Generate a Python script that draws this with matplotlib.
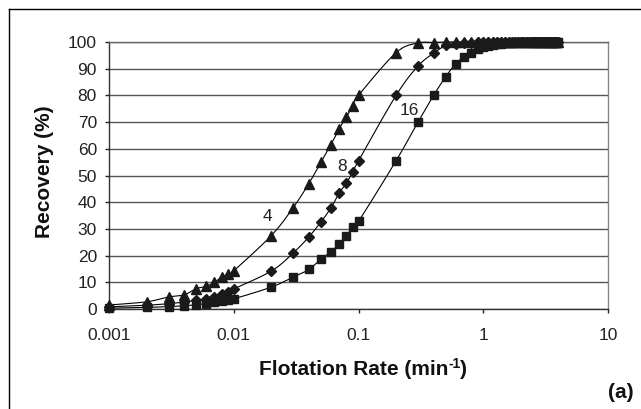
import numpy as np
import matplotlib
matplotlib.use("Agg")
import matplotlib.pyplot as plt
from matplotlib.lines import Line2D

plt.rcParams['font.family'] = ['Liberation Sans', 'DejaVu Sans']

# ---- data ----
rate = [0.001, 0.002, 0.003, 0.004, 0.005, 0.006, 0.007, 0.008, 0.009,
        0.01, 0.02, 0.03, 0.04, 0.05, 0.06, 0.07, 0.08, 0.09,
        0.1, 0.2, 0.3, 0.4, 0.5, 0.6, 0.7, 0.8, 0.9,
        1.0, 1.1, 1.2, 1.3, 1.4, 1.5, 1.6, 1.7, 1.8, 1.9,
        2.0, 2.1, 2.2, 2.3, 2.4, 2.5, 2.6, 2.7, 2.8, 2.9,
        3.0, 3.1, 3.2, 3.3, 3.4, 3.5, 3.6, 3.7, 3.8, 3.9, 4.0]

rec_4 = [1.5, 2.7, 4.5, 5.3, 7.6, 8.5, 10.0, 12.0, 13.0,
         14.3, 27.5, 38.0, 47.0, 55.0, 61.5, 67.5, 72.0, 76.0,
         80.0, 96.0, 99.6, 99.8, 100, 100, 100, 100, 100,
         100, 100, 100, 100, 100, 100, 100, 100, 100, 100,
         100, 100, 100, 100, 100, 100, 100, 100, 100, 100,
         100, 100, 100, 100, 100, 100, 100, 100, 100, 100, 100]

rec_8 = [0.8, 1.4, 2.0, 2.6, 3.2, 3.9, 4.6, 5.5, 6.4,
         7.5, 14.2, 21.0, 27.0, 32.6, 37.8, 43.4, 47.2, 51.3,
         55.5, 80.0, 91.0, 95.8, 98.7, 99.4, 99.7, 99.8, 99.9,
         100, 100, 100, 100, 100, 100, 100, 100, 100, 100,
         100, 100, 100, 100, 100, 100, 100, 100, 100, 100,
         100, 100, 100, 100, 100, 100, 100, 100, 100, 100, 100]

rec_16 = [0.3, 0.6, 0.9, 1.2, 1.6, 2.0, 2.5, 3.0, 3.4,
          3.8, 8.2, 12.0, 14.8, 18.7, 21.4, 24.4, 27.4, 30.7,
          32.8, 55.5, 70.0, 80.0, 87.0, 91.8, 94.4, 96.0, 97.2,
          98.0, 98.5, 98.9, 99.2, 99.4, 99.6, 99.7, 99.8, 99.85, 99.9,
          100, 100, 100, 100, 100, 100, 100, 100, 100, 100,
          100, 100, 100, 100, 100, 100, 100, 100, 100, 100, 100]

series_labels = ['4', '8', '16']
label_pos = [(0.0187, 34.5), (0.0745, 53.2), (0.256, 74.2)]

xticks = [0.001, 0.01, 0.1, 1, 10]
xticklabels = ['0.001', '0.01', '0.1', '1', '10']
yticks = list(range(0, 101, 10))

# ---- figure ----
W, H = 641, 409
fig = plt.figure(figsize=(W / 100, H / 100), dpi=100)
ax = fig.add_axes([109 / W, 1 - 309 / H, (608 - 109) / W, (309 - 42) / H])
ax.set_xscale('log')
ax.set_xlim(0.001, 10)
ax.set_ylim(0, 100)


def smooth(x, y, n=24):
    # Excel-like smoothing: cubic Bezier with Catmull-Rom tangents in screen-like space
    X = np.log10(np.asarray(x, float)) * 125.0
    Y = np.asarray(y, float) * 2.67
    P = np.column_stack([X, Y])
    P = np.vstack([P[0], P, P[-1]])
    t = np.linspace(0, 1, n, endpoint=False)[:, None]
    pts = []
    for i in range(1, len(P) - 2):
        p0, p1, p2, p3 = P[i - 1], P[i], P[i + 1], P[i + 2]
        c1 = p1 + (p2 - p0) / 6.0
        c2 = p2 - (p3 - p1) / 6.0
        b = ((1 - t) ** 3) * p1 + 3 * ((1 - t) ** 2) * t * c1 + 3 * (1 - t) * t ** 2 * c2 + t ** 3 * p2
        pts.append(b)
    pts.append(P[-2][None, :])
    pts = np.vstack(pts)
    return 10 ** (pts[:, 0] / 125.0), pts[:, 1] / 2.67


mk_color = '#1a1a1a'
for yv, mk, ms in [(rec_4, '^', 7.5), (rec_8, 'D', 5.2), (rec_16, 's', 5.8)]:
    sx, sy = smooth(rate, yv)
    ax.plot(sx, sy, color='black', lw=0.8, zorder=3, clip_on=False)
    ax.plot(rate, yv, linestyle='none', marker=mk, markersize=ms,
            color=mk_color, markeredgecolor=mk_color, zorder=4, clip_on=False)

for lab, (lx, ly) in zip(series_labels, label_pos):
    ax.text(lx, ly, lab, fontsize=12.5, ha='center', va='center', color='#222222', zorder=5)

ax.set_xticks(xticks)
ax.set_xticklabels(xticklabels)
ax.xaxis.set_minor_locator(matplotlib.ticker.NullLocator())
ax.set_yticks(yticks)
ax.tick_params(axis='both', labelsize=12.5, colors='#222222', direction='out', length=3.2, width=1)
ax.tick_params(axis='x', pad=10.3)
ax.tick_params(axis='y', pad=5.5)

ax.grid(axis='y', color='#555555', lw=1.0, zorder=1)
ax.set_axisbelow(True)
ax.spines['left'].set_color('#333333')
ax.spines['bottom'].set_color('#333333')
ax.spines['right'].set_color('#888888')
ax.spines['top'].set_color('#666666')
for s in ax.spines.values():
    s.set_linewidth(1.0)

# x-axis title composed of pieces (hyphen superscript like the original)
renderer = fig.canvas.get_renderer()
base_y = 1 - 375 / H
t1 = fig.text(0, base_y, 'Flotation Rate (min', fontsize=15, fontweight='bold',
              ha='left', va='baseline', color='#111111')
t2 = fig.text(0, base_y + 7 / H, '-1', fontsize=10, fontweight='bold',
              ha='left', va='baseline', color='#111111')
t3 = fig.text(0, base_y, ')', fontsize=15, fontweight='bold',
              ha='left', va='baseline', color='#111111')
w1 = t1.get_window_extent(renderer).width
w2 = t2.get_window_extent(renderer).width
w3 = t3.get_window_extent(renderer).width
total = w1 + w2 + w3
x0 = 363 - total / 2
t1.set_x(x0 / W)
t2.set_x((x0 + w1) / W)
t3.set_x((x0 + w1 + w2) / W)

fig.text(45 / W, 1 - 172 / H, 'Recovery (%)', fontsize=15, fontweight='bold',
         rotation=90, ha='center', va='center', color='#111111')
fig.text(621 / W, 1 - 393 / H, '(a)', fontsize=15, fontweight='bold',
         ha='center', va='center', color='#111111')

# outer frame (top and left edges visible)
fig.add_artist(Line2D([9 / W, 9 / W], [0, 1 - 9 / H], transform=fig.transFigure, color='black', lw=1))
fig.add_artist(Line2D([9 / W, 1], [1 - 9 / H, 1 - 9 / H], transform=fig.transFigure, color='black', lw=1))

fig.savefig('out.png', dpi=100)
